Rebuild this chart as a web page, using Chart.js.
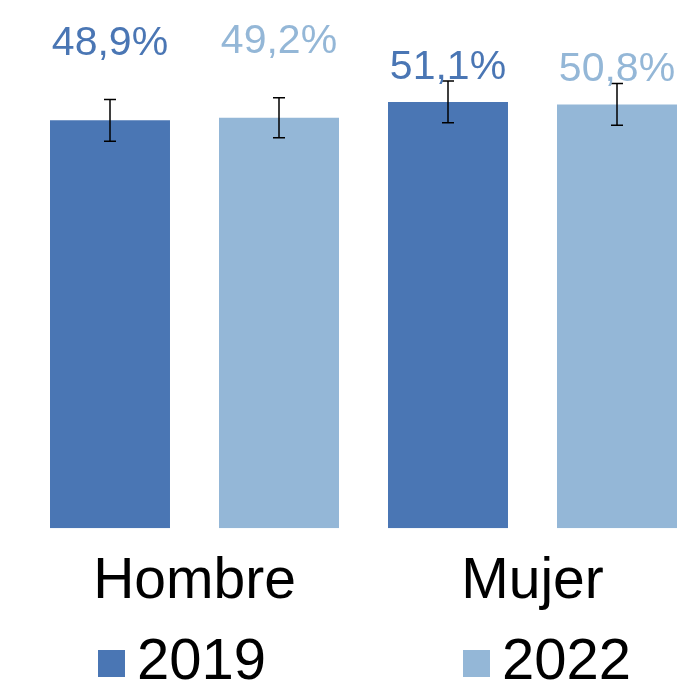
<!DOCTYPE html>
<html>
<head>
<meta charset="utf-8">
<script src="https://cdn.jsdelivr.net/npm/chart.js@4/dist/chart.umd.min.js"></script>
<style>
    html, body { margin: 0; padding: 0; background: #fff; overflow: hidden; }
    #wrap { position: relative; width: 702px; height: 681px; }
</style>
</head>
<body>
<div id="wrap"><canvas id="chart"></canvas></div>
<script>
const categories = ['Hombre', 'Mujer'];
const years = ['2019', '2022'];
const values2019 = [48.9, 51.1];
const values2022 = [49.2, 50.8];
const errors2019 = [2.5, 2.5];
const errors2022 = [2.4, 2.5];

const colors = ['#4a76b4', '#94b7d7'];
const labelLift = [65, 23];      // distancia etiqueta-barra por categoría (px)
const legendX = [98, 463];
const FONT = '"Liberation Sans", Arial, sans-serif';

function fmt(v) {
    return v.toFixed(1).replace('.', ',') + '%';
}

// barras de error
const errorBars = {
    id: 'errorBars',
    afterDatasetsDraw(chart) {
        const ctx = chart.ctx;
        const y = chart.scales.y;
        ctx.save();
        ctx.strokeStyle = '#000';
        ctx.lineWidth = 1.5;
        chart.data.datasets.forEach((ds, i) => {
            chart.getDatasetMeta(i).data.forEach((bar, j) => {
                const v = ds.data[j];
                const e = ds.errors[j];
                const top = y.getPixelForValue(v + e);
                const bot = y.getPixelForValue(v - e);
                ctx.beginPath();
                ctx.moveTo(bar.x, top);
                ctx.lineTo(bar.x, bot);
                ctx.moveTo(bar.x - 6, top);
                ctx.lineTo(bar.x + 6, top);
                ctx.moveTo(bar.x - 6, bot);
                ctx.lineTo(bar.x + 6, bot);
                ctx.stroke();
            });
        });
        ctx.restore();
    }
};

// etiquetas de valor
const valueLabels = {
    id: 'valueLabels',
    afterDraw(chart) {
        const ctx = chart.ctx;
        ctx.save();
        ctx.font = '41px ' + FONT;
        ctx.textAlign = 'center';
        ctx.textBaseline = 'alphabetic';
        chart.data.datasets.forEach((ds, i) => {
            ctx.fillStyle = ds.backgroundColor;
            chart.getDatasetMeta(i).data.forEach((bar, j) => {
                ctx.fillText(fmt(ds.data[j]), bar.x, bar.y - labelLift[j]);
            });
        });
        ctx.restore();
    }
};

// leyenda
const bottomLegend = {
    id: 'bottomLegend',
    afterDraw(chart) {
        const ctx = chart.ctx;
        ctx.save();
        ctx.font = '58px ' + FONT;
        ctx.textAlign = 'left';
        ctx.textBaseline = 'alphabetic';
        chart.data.datasets.forEach((ds, i) => {
            const x = legendX[i];
            ctx.fillStyle = ds.backgroundColor;
            ctx.fillRect(x, 650, 27, 27);
            ctx.fillStyle = '#000';
            ctx.fillText(ds.label, x + 39, 679);
        });
        ctx.restore();
    }
};

new Chart(document.getElementById('chart'), {
    type: 'bar',
    data: {
        labels: categories,
        datasets: [
            { label: years[0], data: values2019, errors: errors2019, backgroundColor: colors[0] },
            { label: years[1], data: values2022, errors: errors2022, backgroundColor: colors[1] }
        ]
    },
    options: {
        responsive: true,
        maintainAspectRatio: false,
        animation: false,
        layout: { padding: { top: 27.7, left: 25.5, right: 0.5, bottom: 44.3 } },
        datasets: {
            bar: { categoryPercentage: 1, barPercentage: 0.71 }
        },
        plugins: {
            legend: { display: false },
            tooltip: { enabled: false }
        },
        scales: {
            x: {
                grid: { display: false, drawTicks: false },
                border: { display: false },
                ticks: {
                    color: '#000',
                    padding: 20,
                    font: { size: 57, family: FONT }
                }
            },
            y: {
                display: false,
                min: 0,
                max: 60
            }
        }
    },
    plugins: [errorBars, valueLabels, bottomLegend]
});
</script>
</body>
</html>
